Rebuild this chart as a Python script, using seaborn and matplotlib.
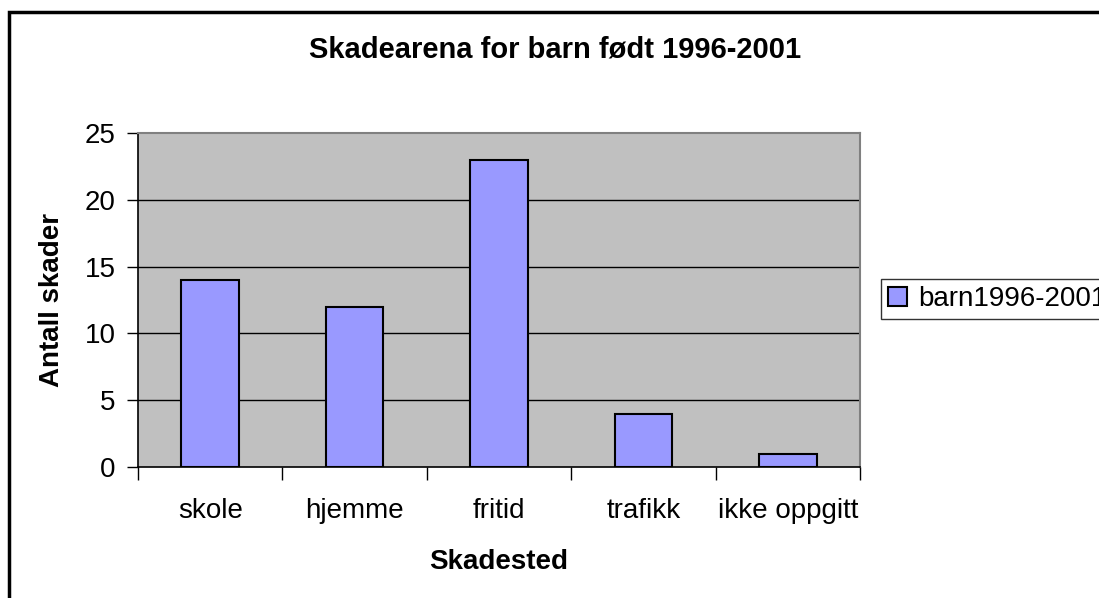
import matplotlib
matplotlib.use("Agg")
import matplotlib.pyplot as plt
import pandas as pd
import seaborn as sns
from matplotlib.patches import Rectangle

sns.set_theme(style="white")
plt.rcParams['font.family'] = ['Liberation Sans', 'DejaVu Sans']
plt.rcParams['text.color'] = 'black'
plt.rcParams['axes.labelcolor'] = 'black'
plt.rcParams['xtick.color'] = 'black'
plt.rcParams['ytick.color'] = 'black'

# data
categories = ['skole', 'hjemme', 'fritid', 'trafikk', 'ikke oppgitt']
values = [14, 12, 23, 4, 1]
series_name = 'barn1996-2001'
y_ticks = [0, 5, 10, 15, 20, 25]

df = pd.DataFrame({'Skadested': categories, 'Antall skader': values})

W, H = 1099, 598
fig = plt.figure(figsize=(W / 100, H / 100), dpi=100)
fig.patch.set_facecolor('white')

# outer chart frame (runs off the right and bottom edges)
fig.patches.append(Rectangle((9 / W, -0.05), 1.1, 1 - 12 / H + 0.05,
                             transform=fig.transFigure, fill=False,
                             edgecolor='black', linewidth=2.5))

ax = fig.add_axes([138 / W, 1 - 467 / H, 722 / W, 334 / H])
ax.set_facecolor('#C0C0C0')

sns.barplot(data=df, x='Skadested', y='Antall skader', color='#9999FF',
            edgecolor='black', linewidth=1.5, width=0.4, saturation=1,
            label=series_name, ax=ax, zorder=3)

ax.set_ylim(0, 25)
ax.set_xlim(-0.5, len(categories) - 0.5)
ax.set_yticks(y_ticks)
ax.set_yticklabels([str(t) for t in y_ticks])
for t in y_ticks[1:-1]:
    ax.axhline(t, color='black', linewidth=1, zorder=1)

# category boundaries get the x ticks
ax.set_xticks([i - 0.5 for i in range(len(categories) + 1)], minor=True)
ax.tick_params(axis='x', which='major', length=0, pad=22, labelsize=20)
ax.tick_params(axis='x', which='minor', length=9, width=1, color='black', direction='out', bottom=True)
ax.tick_params(axis='y', length=8, width=1, color='black', direction='out', left=True,
               pad=8, labelsize=20)

for side in ['left', 'bottom']:
    ax.spines[side].set_color('black')
    ax.spines[side].set_linewidth(1.2)
for side in ['top', 'right']:
    ax.spines[side].set_color('#808080')
    ax.spines[side].set_linewidth(1.5)

ax.set_xlabel('Skadested', fontsize=20, fontweight='bold', labelpad=18)
ax.set_ylabel('Antall skader', fontsize=20, fontweight='bold', labelpad=14)

fig.text(555 / W, 1 - 50 / H, 'Skadearena for barn født 1996-2001',
         ha='center', va='center', fontsize=21, fontweight='bold')

leg = ax.legend(loc='center left', bbox_to_anchor=(881 / W, 1 - 299 / H),
                bbox_transform=fig.transFigure, fontsize=20, frameon=True,
                fancybox=False, edgecolor='black', handlelength=0.7,
                handleheight=0.7, handletextpad=0.4, borderpad=0.25,
                borderaxespad=0)
leg.get_frame().set_linewidth(1)

fig.savefig('out.png', dpi=100)
